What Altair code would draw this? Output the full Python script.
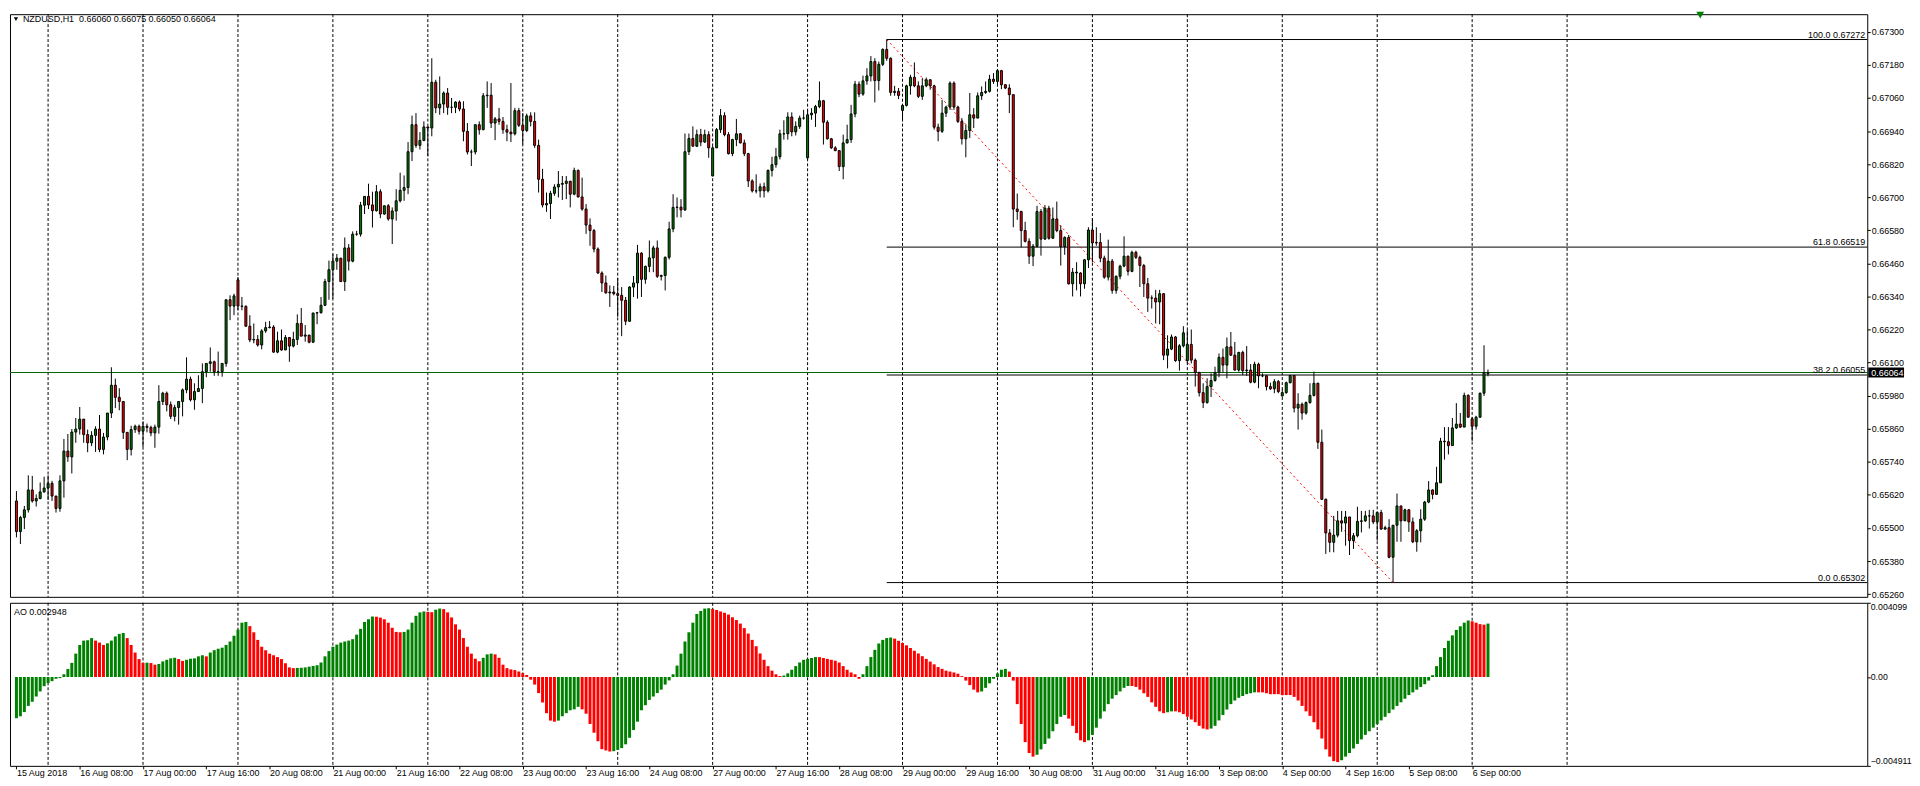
import altair as alt
import pandas as pd

# ---------------- data (prices in 1e-5 units) ----------------
CLOSE = [
65487, 65538, 65566, 65638, 65598, 65607, 65631, 65645, 65662, 65616,
65571, 65671, 65779, 65758, 65848, 65859, 65895, 65839, 65809, 65836,
65859, 65785, 65830, 65917, 66018, 65974, 65959, 65847, 65785, 65857,
65869, 65851, 65869, 65865, 65845, 65866, 65959, 65989, 65947, 65905,
65937, 65959, 66001, 66040, 65965, 65995, 66006, 66067, 66097, 66103,
66067, 66067, 66097, 66328, 66305, 66342, 66305, 66304, 66232, 66182,
66184, 66164, 66215, 66227, 66229, 66138, 66179, 66146, 66191, 66160,
66184, 66242, 66196, 66200, 66174, 66280, 66281, 66308, 66394, 66437,
66468, 66479, 66394, 66516, 66468, 66566, 66566, 66671, 66703, 66672,
66651, 66720, 66639, 66669, 66621, 66650, 66687, 66725, 66735, 66865,
66963, 66888, 66906, 66955, 66951, 67117, 67024, 67038, 67078, 67026,
67026, 67045, 67020, 66939, 66864, 66864, 66963, 66945, 67068, 67070,
66969, 66984, 66975, 66945, 66936, 66930, 67014, 66961, 66942, 66995,
66975, 66888, 66765, 66672, 66677, 66714, 66737, 66747, 66750, 66758,
66711, 66797, 66701, 66657, 66599, 66579, 66512, 66425, 66389, 66353,
66356, 66350, 66344, 66326, 66250, 66374, 66389, 66497, 66402, 66449,
66480, 66516, 66413, 66416, 66482, 66585, 66663, 66664, 66654, 66865,
66913, 66885, 66927, 66900, 66927, 66879, 66879, 66945, 66996, 66927,
66858, 66909, 66930, 66897, 66858, 66759, 66723, 66723, 66738, 66723,
66797, 66818, 66847, 66930, 66930, 66991, 66937, 66957, 66987, 66987,
66999, 67005, 67029, 67050, 66972, 66912, 66879, 66869, 66811, 66897,
66909, 67002, 67110, 67074, 67122, 67140, 67192, 67123, 67182, 67236,
67204, 67080, 67084, 67069, 67033, 67104, 67135, 67104, 67066, 67104,
67126, 67104, 66954, 66939, 67005, 67027, 67114, 67027, 66975, 66912,
66942, 66999, 66987, 67068, 67080, 67084, 67128, 67120, 67159, 67108,
67096, 67072, 66657, 66648, 66579, 66540, 66486, 66522, 66648, 66548,
66660, 66551, 66621, 66579, 66521, 66554, 66386, 66428, 66425, 66386,
66473, 66581, 66534, 66536, 66479, 66410, 66468, 66362, 66413, 66450,
66486, 66431, 66500, 66482, 66452, 66386, 66334, 66334, 66320, 66350,
66127, 66149, 66193, 66107, 66161, 66208, 66166, 66109, 66064, 65991,
65955, 66013, 66035, 66064, 66119, 66091, 66157, 66127, 66073, 66137,
66071, 66073, 66029, 66094, 66052, 66052, 66013, 66005, 66031, 65995,
65991, 66027, 66053, 65935, 65949, 65917, 65955, 65981, 66025, 65811,
65604, 65482, 65448, 65474, 65526, 65518, 65540, 65454, 65472, 65524,
65526, 65544, 65544, 65522, 65556, 65496, 65501, 65394, 65510, 65580,
65526, 65566, 65522, 65450, 65490, 65532, 65594, 65638, 65622, 65664,
65815, 65813, 65799, 65863, 65877, 65866, 65981, 65902, 65869, 65902,
65989, 66064, 66064]

HIGH = [
65634, 65544, 65580, 65691, 65689, 65622, 65665, 65686, 65691, 65671,
65616, 65691, 65823, 65841, 65859, 65899, 65939, 65895, 65857, 65851,
65869, 65910, 65845, 65917, 66083, 66042, 66007, 65959, 65847, 65871,
65875, 65875, 65887, 65879, 65871, 65875, 66018, 65994, 65995, 65959,
65947, 65959, 66006, 66119, 66049, 66025, 66054, 66097, 66097, 66155,
66107, 66140, 66097, 66328, 66344, 66350, 66410, 66338, 66308, 66272,
66242, 66200, 66221, 66248, 66251, 66236, 66212, 66220, 66200, 66191,
66212, 66275, 66298, 66236, 66200, 66280, 66284, 66338, 66404, 66470,
66494, 66494, 66479, 66554, 66530, 66576, 66578, 66683, 66703, 66749,
66720, 66744, 66729, 66669, 66675, 66663, 66729, 66789, 66779, 66900,
66996, 67005, 66936, 66975, 66955, 67204, 67126, 67138, 67084, 67096,
67060, 67048, 67051, 67048, 66969, 66873, 66963, 66975, 67078, 67120,
67114, 66991, 67024, 66991, 66963, 67114, 67024, 67024, 67005, 67003,
67008, 67008, 66909, 66803, 66717, 66723, 66747, 66795, 66777, 66777,
66759, 66807, 66801, 66771, 66675, 66623, 66585, 66518, 66431, 66416,
66380, 66378, 66407, 66374, 66338, 66377, 66414, 66527, 66500, 66452,
66543, 66524, 66543, 66419, 66485, 66611, 66711, 66699, 66693, 66931,
66931, 66957, 66945, 66948, 66945, 66939, 66885, 66951, 67020, 67008,
66936, 66912, 66984, 66933, 66909, 66861, 66765, 66783, 66750, 66753,
66801, 66847, 66879, 66945, 66979, 67008, 67008, 66975, 66996, 67017,
67017, 67023, 67035, 67120, 67053, 66979, 66915, 66885, 66871, 66927,
66963, 67035, 67122, 67120, 67141, 67168, 67212, 67204, 67192, 67240,
67272, 67207, 67104, 67096, 67035, 67108, 67144, 67189, 67120, 67132,
67134, 67128, 67108, 66967, 67053, 67032, 67120, 67120, 67032, 66987,
66963, 67078, 67023, 67080, 67102, 67120, 67144, 67150, 67164, 67162,
67110, 67110, 67072, 66713, 66651, 66611, 66551, 66530, 66669, 66657,
66672, 66669, 66663, 66684, 66597, 66558, 66563, 66443, 66464, 66428,
66476, 66591, 66623, 66591, 66570, 66488, 66546, 66476, 66416, 66455,
66558, 66488, 66506, 66506, 66488, 66458, 66407, 66344, 66364, 66364,
66352, 66199, 66202, 66196, 66167, 66232, 66217, 66220, 66115, 66067,
66025, 66043, 66061, 66085, 66133, 66151, 66191, 66211, 66175, 66139,
66143, 66160, 66095, 66103, 66100, 66061, 66055, 66027, 66040, 66037,
66003, 66031, 66055, 66053, 65989, 65955, 65959, 66025, 66067, 66027,
65857, 65607, 65496, 65544, 65562, 65562, 65562, 65532, 65482, 65577,
65562, 65562, 65566, 65566, 65559, 65566, 65508, 65532, 65510, 65625,
65580, 65570, 65568, 65538, 65496, 65568, 65598, 65670, 65640, 65722,
65827, 65866, 65866, 65899, 65953, 65917, 65991, 65985, 65902, 65907,
65991, 66163, 66075]

LOW = [
65466, 65442, 65496, 65556, 65592, 65578, 65604, 65628, 65602, 65598,
65556, 65559, 65610, 65740, 65698, 65809, 65839, 65809, 65775, 65797,
65776, 65775, 65767, 65818, 65899, 65935, 65927, 65823, 65746, 65763,
65845, 65839, 65794, 65847, 65833, 65791, 65842, 65946, 65923, 65895,
65887, 65875, 65905, 65989, 65959, 65929, 65995, 65953, 66047, 66067,
66052, 66052, 66049, 66085, 66254, 66272, 66290, 66290, 66230, 66174,
66170, 66158, 66148, 66208, 66224, 66136, 66134, 66143, 66146, 66103,
66155, 66164, 66196, 66176, 66170, 66172, 66239, 66278, 66305, 66328,
66332, 66437, 66394, 66360, 66434, 66464, 66560, 66557, 66639, 66657,
66590, 66648, 66624, 66636, 66615, 66530, 66615, 66681, 66687, 66711,
66831, 66879, 66873, 66903, 66849, 66921, 67005, 66999, 67005, 66999,
67005, 67005, 67012, 66903, 66855, 66813, 66855, 66927, 66943, 67024,
66951, 66907, 66963, 66930, 66903, 66900, 66924, 66955, 66891, 66936,
66957, 66879, 66717, 66663, 66647, 66621, 66705, 66699, 66690, 66693,
66663, 66707, 66699, 66651, 66567, 66524, 66500, 66422, 66356, 66350,
66302, 66344, 66266, 66196, 66236, 66248, 66338, 66332, 66338, 66386,
66428, 66428, 66407, 66398, 66362, 66474, 66573, 66627, 66627, 66650,
66853, 66885, 66882, 66885, 66897, 66843, 66777, 66885, 66933, 66921,
66855, 66849, 66885, 66895, 66849, 66737, 66717, 66714, 66699, 66699,
66717, 66775, 66807, 66837, 66909, 66909, 66921, 66924, 66948, 66981,
66837, 66981, 66955, 67023, 66891, 66909, 66875, 66867, 66795, 66765,
66895, 66897, 66990, 67063, 67068, 67108, 67120, 67044, 67087, 67176,
67195, 67068, 67068, 67056, 66981, 67029, 67072, 67099, 67060, 67053,
67099, 67090, 66945, 66903, 66933, 66991, 67017, 67017, 66969, 66891,
66845, 66915, 66951, 66987, 67053, 67075, 67080, 67111, 67108, 67092,
67092, 67005, 66591, 66618, 66518, 66536, 66458, 66450, 66518, 66488,
66546, 66546, 66573, 66573, 66452, 66491, 66383, 66340, 66362, 66340,
66368, 66443, 66464, 66524, 66464, 66404, 66398, 66350, 66350, 66402,
66446, 66416, 66428, 66476, 66374, 66338, 66284, 66296, 66242, 66239,
66109, 66079, 66145, 66103, 66071, 66155, 66097, 66097, 66013, 65977,
65935, 65951, 65975, 66031, 66047, 66064, 66043, 66124, 66071, 66067,
66055, 66052, 66025, 66025, 66007, 66047, 65999, 66001, 65989, 65989,
65977, 65987, 66025, 65919, 65857, 65893, 65911, 65951, 65977, 65787,
65602, 65406, 65412, 65412, 65466, 65486, 65436, 65402, 65424, 65466,
65484, 65522, 65498, 65514, 65454, 65494, 65494, 65390, 65302, 65450,
65450, 65526, 65486, 65445, 65414, 65448, 65526, 65590, 65604, 65622,
65664, 65748, 65767, 65799, 65859, 65863, 65866, 65901, 65815, 65857,
65899, 65979, 66050]

# opens equal the previous close except where a gap was read
OPEN_OVERRIDE = {0: 65598, 56: 66400, 176: 66777, 200: 66843, 224: 67015,
                 296: 66107, 320: 65979, 368: 65896, 372: 66060}

# Awesome Oscillator, 1e-5 units
AO = [
-228, -217, -194, -160, -137, -108, -80, -51, -34, -23,
-10, -6, 15, 44, 78, 129, 177, 201, 203, 215,
201, 190, 177, 186, 201, 224, 238, 243, 215, 177,
135, 99, 78, 79, 77, 68, 72, 86, 95, 103,
106, 99, 89, 95, 101, 103, 114, 120, 114, 135,
148, 156, 162, 177, 196, 228, 262, 300, 304, 281,
247, 205, 167, 148, 129, 120, 110, 99, 76, 53,
49, 50, 51, 53, 57, 61, 65, 80, 114, 143,
167, 179, 190, 196, 201, 209, 234, 266, 304, 319,
334, 333, 328, 319, 300, 272, 249, 247, 249, 262,
300, 338, 357, 362, 360, 358, 372, 378, 375, 357,
329, 291, 262, 215, 167, 129, 101, 87, 106, 125,
129, 125, 106, 68, 49, 42, 38, 30, 21, 11,
-15, -42, -89, -141, -200, -241, -247, -241, -217, -200,
-184, -179, -165, -179, -203, -260, -308, -355, -399, -406,
-412, -410, -403, -393, -372, -336, -293, -247, -184, -156,
-127, -108, -89, -70, -42, -19, 15, 63, 129, 196,
247, 300, 348, 365, 378, 380, 376, 370, 362, 355,
345, 330, 315, 295, 270, 240, 205, 170, 130, 95,
60, 35, 15, 5, 8, 20, 40, 60, 80, 95,
100, 105, 110, 110, 105, 100, 95, 90, 80, 60,
40, 25, 15, -10, 15, 60, 110, 150, 185, 205,
215, 218, 212, 200, 188, 175, 160, 145, 130, 115,
100, 85, 70, 55, 45, 35, 30, 25, 18, 5,
-20, -45, -70, -85, -80, -60, -35, -10, 20, 40,
45, 30, -20, -150, -260, -360, -420, -440, -430, -400,
-370, -340, -300, -260, -220, -210, -230, -270, -310, -350,
-360, -350, -320, -280, -230, -190, -150, -120, -100, -80,
-60, -50, -50, -55, -70, -90, -110, -140, -165, -190,
-200, -195, -190, -190, -195, -205, -220, -235, -250, -270,
-285, -290, -285, -270, -240, -210, -180, -150, -130, -115,
-105, -95, -90, -85, -85, -85, -90, -95, -95, -95,
-100, -100, -100, -110, -130, -160, -190, -215, -250, -290,
-340, -400, -440, -465, -470, -460, -440, -420, -395, -370,
-345, -320, -300, -280, -260, -240, -220, -200, -180, -160,
-140, -120, -100, -85, -70, -55, -40, -20, 10, 60,
110, 160, 200, 230, 260, 280, 300, 312, 308, 300,
292, 289, 295]

LABEL_BARS = [0, 16, 32, 48, 64, 80, 96, 112, 128, 144, 160, 176, 192, 208,
              224, 240, 256, 272, 288, 304, 320, 336, 352, 368]
LABEL_TEXT = ["15 Aug 2018", "16 Aug 08:00", "17 Aug 00:00", "17 Aug 16:00",
              "20 Aug 08:00", "21 Aug 00:00", "21 Aug 16:00", "22 Aug 08:00",
              "23 Aug 00:00", "23 Aug 16:00", "24 Aug 08:00", "27 Aug 00:00",
              "27 Aug 16:00", "28 Aug 08:00", "29 Aug 00:00", "29 Aug 16:00",
              "30 Aug 08:00", "31 Aug 00:00", "31 Aug 16:00", "3 Sep 08:00",
              "4 Sep 00:00", "4 Sep 16:00", "5 Sep 08:00", "6 Sep 00:00"]
DAY_BARS = [8, 32, 56, 80, 104, 128, 152, 176, 200, 224, 248, 272, 296, 320,
            344, 368, 392]
PRICE_TICKS = [0.67300, 0.67180, 0.67060, 0.66940, 0.66820, 0.66700, 0.66580,
               0.66460, 0.66340, 0.66220, 0.66100, 0.65980, 0.65860, 0.65740,
               0.65620, 0.65500, 0.65380, 0.65260]
AO_TICKS = [0.004099, 0.0, -0.004911]
FIB_LEVELS = [100.0, 61.8, 38.2, 0.0]
FIB_PRICES = [0.67272, 0.66519, 0.66055, 0.65302]
FIB_START_BAR = 220
FIB_END_BAR = 348
BID = 0.66064
TITLE = "NZDUSD,H1\u00a0 0.66060 0.66075 0.66050 0.66064"
AO_TITLE = "AO 0.002948"

# ---------------- tables ----------------
n = len(CLOSE)
assert len(HIGH) == n and len(LOW) == n and len(AO) == n, (len(CLOSE), len(HIGH), len(LOW), len(AO))

rows = []
for i in range(n):
    o = OPEN_OVERRIDE.get(i, CLOSE[i - 1] if i > 0 else CLOSE[0]) / 1e5
    c = CLOSE[i] / 1e5
    h = max(HIGH[i] / 1e5, o, c)
    lo = min(LOW[i] / 1e5, o, c)
    rows.append(dict(i=i, o=o, c=c, h=h, l=lo, dir="up" if c >= o else "down"))
candles = pd.DataFrame(rows)

ao_rows = []
for i in range(n):
    up = True if i == 0 else AO[i] > AO[i - 1]
    ao_rows.append(dict(i=i, ao=AO[i] / 1e5, dir="up" if up else "down"))
aodf = pd.DataFrame(ao_rows)

days = pd.DataFrame({"b": DAY_BARS})
fib = pd.DataFrame({"b": [FIB_START_BAR] * 4, "p": FIB_PRICES,
                    "t": [f"{lv:.1f} {p:.5f}" for lv, p in zip(FIB_LEVELS, FIB_PRICES)]})
diag = pd.DataFrame({"b0": [FIB_START_BAR], "b1": [FIB_END_BAR],
                     "p0": [FIB_PRICES[0]], "p1": [FIB_PRICES[3]]})
bid = pd.DataFrame({"p": [BID], "t": [f"{BID:.5f}"]})

# ---------------- layout ----------------
W = 1868
HP = 586
HA = 164
FONT = "Liberation Sans"
GREEN = "#008000"
RED = "#ff0000"

xs = alt.Scale(domain=[-0.375, 466.625], nice=False, zero=False)
ys = alt.Scale(domain=[0.652503, 0.673639], nice=False, zero=False)
ya = alt.Scale(domain=[-0.004911, 0.004099], nice=False, zero=False)
col = alt.Scale(domain=["up", "down"], range=[GREEN, RED])

price_axis = alt.Axis(orient="right", values=PRICE_TICKS, format=".5f", tickSize=3,
                      tickColor="black", labelPadding=1, labelFont=FONT, labelFontSize=9,
                      labelColor="black", domain=False, grid=False, title=None,
                      labelFlush=False, labelOverlap=False)

label_expr = "[" + ",".join(f"'{t}'" for t in LABEL_TEXT) + "][round(datum.value / 16)]"
x_axis = alt.Axis(orient="bottom", values=LABEL_BARS, labelExpr=label_expr, tickSize=3,
                  tickColor="black", labelPadding=0, labelAlign="left", labelBaseline="top",
                  labelFont=FONT, labelFontSize=9, labelColor="black", domain=False,
                  grid=False, title=None, labelFlush=False, labelOverlap=False, labelBound=False)

ao_axis = alt.Axis(orient="right", values=AO_TICKS,
                   labelExpr="datum.value == 0 ? '0.00' : format(datum.value, '.6f')",
                   tickSize=3, tickColor="black", labelPadding=0, labelFont=FONT,
                   labelFontSize=8.8, labelColor="black", domain=False, grid=False,
                   title=None, labelFlush=True, labelFlushOffset=0, labelOverlap=False)

# price pane: no x axis, every y encoding carries the same right axis
XP = lambda f: alt.X(f, scale=xs, axis=None)
YP = lambda f: alt.Y(f, scale=ys, axis=price_axis)
# AO pane: every x encoding carries the same bottom axis
XA = lambda f: alt.X(f, scale=xs, axis=x_axis)

grid_p = alt.Chart(days).mark_rule(color="black", strokeDash=[3, 2], strokeWidth=1).encode(
    x=XP("b:Q"))
bid_line = alt.Chart(bid).mark_rule(color="#006400", strokeWidth=1).encode(y=YP("p:Q"))
fib_lines = alt.Chart(fib).mark_rule(color="black", strokeWidth=1).encode(
    x=XP("b:Q"), x2=alt.value(W), y=YP("p:Q"))
fib_text = alt.Chart(fib).mark_text(align="right", baseline="alphabetic", dy=-2, fontSize=9,
                                    font=FONT, color="black").encode(
    x=alt.value(W - 2), y=YP("p:Q"), text="t:N")
diag_line = alt.Chart(diag).mark_rule(color="red", strokeDash=[2, 3], strokeWidth=1).encode(
    x=XP("b0:Q"), x2="b1:Q", y=YP("p0:Q"), y2="p1:Q")
wicks = alt.Chart(candles).mark_rule(color="black", strokeWidth=1).encode(
    x=XP("i:Q"), y=YP("l:Q"), y2="h:Q")
bodies = alt.Chart(candles).mark_bar(size=2, stroke="black", strokeWidth=1, opacity=1).encode(
    x=XP("i:Q"), y=YP("o:Q"), y2="c:Q",
    color=alt.Color("dir:N", scale=col, legend=None))
cur_box = alt.Chart(bid).mark_tick(orient="horizontal", size=36, thickness=10, color="black",
                                   opacity=1, filled=True).encode(
    x=alt.value(W + 19), y=YP("p:Q"))
cur_text = alt.Chart(bid).mark_text(align="left", baseline="middle", fontSize=9, font=FONT,
                                    color="white").encode(
    x=alt.value(W + 4), y=YP("p:Q"), text="t:N")
title = alt.Chart(pd.DataFrame({"t": [TITLE]})).mark_text(
    align="left", baseline="middle", fontSize=9, font=FONT, color="black").encode(
    x=alt.value(13), y=alt.value(5), text="t:N")
tri = alt.Chart(pd.DataFrame({"t": [TITLE]})).mark_point(
    shape="triangle-down", filled=True, color="black", size=18, opacity=1).encode(
    x=alt.value(6), y=alt.value(5))
arrow = alt.Chart(pd.DataFrame({"t": [TITLE]})).mark_point(
    shape="triangle-down", filled=True, color=GREEN, size=60, opacity=1).encode(
    x=alt.value(1700), y=alt.value(1))

price = alt.layer(grid_p, bid_line, fib_lines, fib_text, diag_line, wicks, bodies,
                  cur_box, cur_text, title, tri, arrow).properties(width=W, height=HP)

grid_a = alt.Chart(days).mark_rule(color="black", strokeDash=[3, 2], strokeWidth=1).encode(
    x=XA("b:Q"))
ao_bars = alt.Chart(aodf).mark_bar(size=3, opacity=1).encode(
    x=XA("i:Q"),
    y=alt.Y("ao:Q", scale=ya, axis=ao_axis), y2=alt.datum(0),
    color=alt.Color("dir:N", scale=col, legend=None))
ao_text = alt.Chart(pd.DataFrame({"t": [AO_TITLE]})).mark_text(
    align="left", baseline="middle", fontSize=9, font=FONT, color="black").encode(
    x=alt.value(4), y=alt.value(9), text="t:N")

ao = alt.layer(grid_a, ao_bars, ao_text).properties(width=W, height=HA)

chart = alt.vconcat(price, ao, spacing=2).properties(
    padding={"left": 1, "top": 1, "right": 0, "bottom": 0}, background="white"
).configure_view(stroke="black", strokeWidth=1)

chart.save("out.html", embed_options={"renderer": "svg", "actions": False})
